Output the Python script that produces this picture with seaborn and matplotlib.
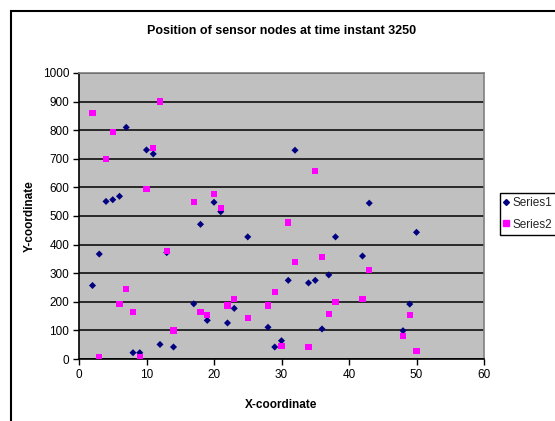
import matplotlib
matplotlib.use("Agg")
import matplotlib.pyplot as plt
import matplotlib.patches as mpatches
import seaborn as sns
import pandas as pd

# ---- data ----
s1_x = [2, 3, 4, 5, 6, 7, 8, 9, 10, 11, 12, 13, 14, 17, 18, 19, 20, 21, 22, 23,
        25, 28, 29, 30, 31, 32, 34, 35, 36, 37, 38, 42, 43, 48, 49, 50]
s1_y = [257, 367, 551, 557, 569, 810, 22, 22, 731, 717, 51, 372, 42, 193, 471, 135,
        548, 515, 126, 177, 427, 111, 42, 64, 275, 730, 266, 275, 105, 294, 427,
        360, 545, 99, 192, 443]
s2_x = [2, 3, 4, 5, 6, 7, 8, 9, 10, 11, 12, 13, 14, 17, 18, 19, 20, 21, 22, 23,
        25, 28, 29, 30, 31, 32, 34, 35, 36, 37, 38, 42, 43, 48, 49, 50]
s2_y = [861, 8, 698, 794, 192, 245, 165, 8, 595, 739, 900, 378, 100, 550, 165, 154,
        576, 527, 187, 211, 143, 187, 235, 45, 477, 340, 41, 657, 358, 158, 199,
        211, 312, 80, 154, 29]
series_names = ["Series1", "Series2"]
title = "Position of sensor nodes at time instant 3250"
x_label = "X-coordinate"
y_label = "Y-coordinate"
x_ticks = [0, 10, 20, 30, 40, 50, 60]
y_ticks = [0, 100, 200, 300, 400, 500, 600, 700, 800, 900, 1000]

df = pd.DataFrame({
    "x": s1_x + s2_x,
    "y": s1_y + s2_y,
    "series": [series_names[0]] * len(s1_x) + [series_names[1]] * len(s2_x),
})

sns.set_theme(style="white")
plt.rcParams["font.family"] = ["Liberation Sans", "DejaVu Sans"]

W, H = 555, 421
fig = plt.figure(figsize=(W / 100, H / 100), dpi=100)
ax = fig.add_axes([79 / W, 1 - 359 / H, (484 - 79) / W, (359 - 73) / H])

palette = {"Series1": "#000080", "Series2": "#FF00FF"}
markers = {"Series1": "D", "Series2": "s"}
sns.scatterplot(data=df, x="x", y="y", hue="series", style="series",
                palette=palette, markers=markers, size="series",
                sizes={"Series1": 13, "Series2": 20},
                linewidth=0, ax=ax, legend=False, zorder=3)

ax.set_facecolor("#C0C0C0")
ax.set_xlim(0, 60)
ax.set_ylim(0, 1000)
ax.set_xticks(x_ticks)
ax.set_yticks(y_ticks)
ax.tick_params(axis="both", which="both", direction="out", length=4, width=1,
               color="black", labelsize=8.5, labelcolor="black",
               bottom=True, left=True, pad=3)
ax.yaxis.grid(True, color="black", linewidth=1.1)
ax.xaxis.grid(False)
ax.set_axisbelow(True)
for side in ["left", "bottom"]:
    ax.spines[side].set_color("black")
    ax.spines[side].set_linewidth(1.2)
for side in ["top", "right"]:
    ax.spines[side].set_color("#808080")
    ax.spines[side].set_linewidth(1.2)
    ax.spines[side].set_visible(True)

ax.set_xlabel(x_label, fontsize=8.5, fontweight="bold", color="black", labelpad=13)
ax.set_ylabel(y_label, fontsize=8.5, fontweight="bold", color="black", labelpad=5)
fig.text(282 / W, 1 - 31 / H, title, ha="center", va="center",
         fontsize=9, fontweight="bold", color="black")

# legend (right edge runs off the picture, as in the reference)
handles = [
    plt.Line2D([], [], marker="D", linestyle="", color=palette["Series1"], markersize=3),
    plt.Line2D([], [], marker="s", linestyle="", color=palette["Series2"], markersize=4.5),
]
fig.legend(handles, series_names, loc="upper left",
           bbox_to_anchor=(500 / W, 1 - 193 / H), fontsize=8.5,
           frameon=True, fancybox=False, edgecolor="black", framealpha=1,
           handlelength=0.4, handletextpad=0.3, borderpad=0.35, labelspacing=0.8,
           borderaxespad=0)

# outer chart frame (continues beyond right and bottom edges)
frame = mpatches.Rectangle((10.5 / W, -0.2), 2.0, 1.2 - 10.5 / H,
                           transform=fig.transFigure, fill=False,
                           edgecolor="black", linewidth=1.5)
fig.patches.append(frame)

fig.savefig("out.png", dpi=100)
